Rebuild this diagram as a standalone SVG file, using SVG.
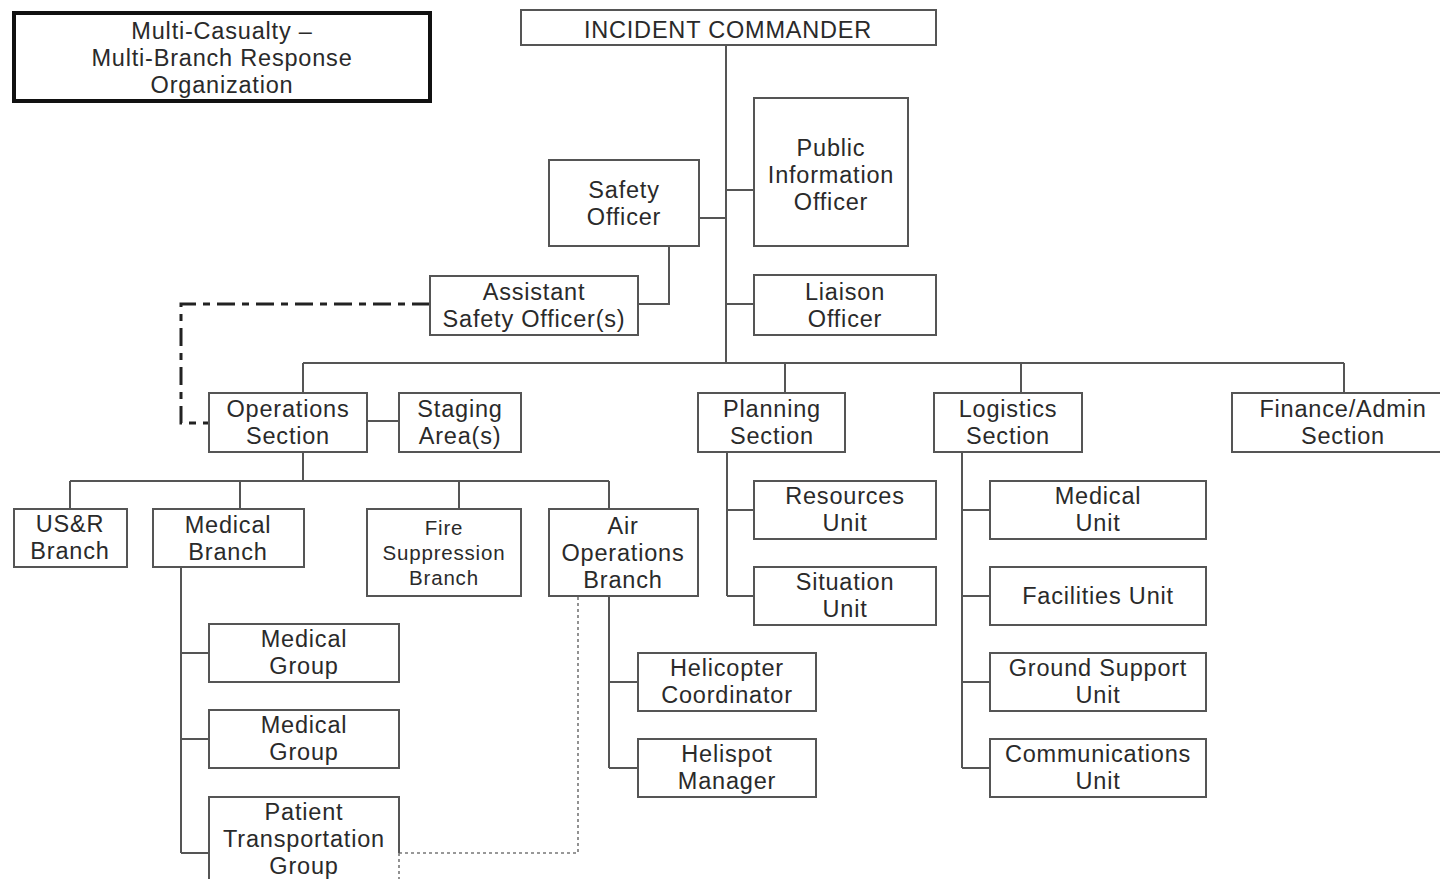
<svg xmlns="http://www.w3.org/2000/svg" width="1440" height="879" viewBox="0 0 1440 879">
<style>
.box{fill:#fff;stroke:#555;stroke-width:2}
.t{font-family:"Liberation Sans",Arial,sans-serif;font-size:23.5px;fill:#2a2a2a;text-anchor:middle;letter-spacing:0.8px}
.s{font-size:20.5px}
.ln{fill:none;stroke:#555;stroke-width:2}
.dash{fill:none;stroke:#222;stroke-width:3;stroke-dasharray:18 7 7 7}
.dot{fill:none;stroke:#777;stroke-width:1.6;stroke-dasharray:3 3}
</style>
<rect width="1440" height="879" fill="#fff"/>
<g id="connectors">
<path class="ln" d="M726 45V363M699 218H726M726 190H754M726 304H754M669 246V304H638"/>
<path class="ln" d="M303 363H1344M303 363V393M785 363V393M1021 363V393M1344 363V393"/>
<path class="ln" d="M367 421H399"/>
<path class="ln" d="M303 452V481M70 481H609M70 481V509M240 481V509M459 481V509M609 481V509"/>
<path class="ln" d="M181 567V853M181 653H209M181 739H209M181 853H209"/>
<path class="ln" d="M609 596V768M609 682H638M609 768H638"/>
<path class="ln" d="M727 452V596M727 510H754M727 596H754"/>
<path class="ln" d="M962 452V768M962 510H990M962 596H990M962 682H990M962 768H990"/>
<path class="dash" d="M430 304H181V423H209"/>
<path class="dot" d="M578 597V853H399M399 853V879"/>
</g>
<g id="title"><rect x="14" y="13" width="416" height="88" fill="#fff" stroke="#111" stroke-width="4"/>
<text class="t" x="222" y="39">Multi-Casualty –</text><text class="t" x="222" y="66">Multi-Branch Response</text><text class="t" x="222" y="93">Organization</text></g>
<g id="ic"><rect class="box" x="521" y="10" width="415" height="35"/><text class="t" x="728" y="38">INCIDENT COMMANDER</text></g>
<g id="pio"><rect class="box" x="754" y="98" width="154" height="148"/><text class="t" x="831" y="156">Public</text><text class="t" x="831" y="183">Information</text><text class="t" x="831" y="210">Officer</text></g>
<g id="safety"><rect class="box" x="549" y="160" width="150" height="86"/><text class="t" x="624" y="198">Safety</text><text class="t" x="624" y="225">Officer</text></g>
<g id="asst"><rect class="box" x="430" y="276" width="208" height="59"/><text class="t" x="534" y="300">Assistant</text><text class="t" x="534" y="327">Safety Officer(s)</text></g>
<g id="liaison"><rect class="box" x="754" y="275" width="182" height="60"/><text class="t" x="845" y="300">Liaison</text><text class="t" x="845" y="327">Officer</text></g>
<g id="ops"><rect class="box" x="209" y="393" width="158" height="59"/><text class="t" x="288" y="417">Operations</text><text class="t" x="288" y="444">Section</text></g>
<g id="staging"><rect class="box" x="399" y="393" width="122" height="59"/><text class="t" x="460" y="417">Staging</text><text class="t" x="460" y="444">Area(s)</text></g>
<g id="planning"><rect class="box" x="698" y="393" width="147" height="59"/><text class="t" x="772" y="417">Planning</text><text class="t" x="772" y="444">Section</text></g>
<g id="logistics"><rect class="box" x="934" y="393" width="148" height="59"/><text class="t" x="1008" y="417">Logistics</text><text class="t" x="1008" y="444">Section</text></g>
<g id="finance"><rect class="box" x="1232" y="393" width="212" height="59"/><text class="t" x="1343" y="417">Finance/Admin</text><text class="t" x="1343" y="444">Section</text></g>
<g id="usr"><rect class="box" x="14" y="509" width="113" height="58"/><text class="t" x="70" y="532">US&amp;R</text><text class="t" x="70" y="559">Branch</text></g>
<g id="medbranch"><rect class="box" x="153" y="509" width="151" height="58"/><text class="t" x="228" y="533">Medical</text><text class="t" x="228" y="560">Branch</text></g>
<g id="fire"><rect class="box" x="367" y="509" width="154" height="87"/><text class="t s" x="444" y="535">Fire</text><text class="t s" x="444" y="560">Suppression</text><text class="t s" x="444" y="585">Branch</text></g>
<g id="air"><rect class="box" x="549" y="509" width="149" height="87"/><text class="t" x="623" y="534">Air</text><text class="t" x="623" y="561">Operations</text><text class="t" x="623" y="588">Branch</text></g>
<g id="resources"><rect class="box" x="754" y="481" width="182" height="58"/><text class="t" x="845" y="504">Resources</text><text class="t" x="845" y="531">Unit</text></g>
<g id="situation"><rect class="box" x="754" y="567" width="182" height="58"/><text class="t" x="845" y="590">Situation</text><text class="t" x="845" y="617">Unit</text></g>
<g id="medunit"><rect class="box" x="990" y="481" width="216" height="58"/><text class="t" x="1098" y="504">Medical</text><text class="t" x="1098" y="531">Unit</text></g>
<g id="facilities"><rect class="box" x="990" y="567" width="216" height="58"/><text class="t" x="1098" y="604">Facilities Unit</text></g>
<g id="ground"><rect class="box" x="990" y="653" width="216" height="58"/><text class="t" x="1098" y="676">Ground Support</text><text class="t" x="1098" y="703">Unit</text></g>
<g id="comms"><rect class="box" x="990" y="739" width="216" height="58"/><text class="t" x="1098" y="762">Communications</text><text class="t" x="1098" y="789">Unit</text></g>
<g id="medgroup1"><rect class="box" x="209" y="624" width="190" height="58"/><text class="t" x="304" y="647">Medical</text><text class="t" x="304" y="674">Group</text></g>
<g id="medgroup2"><rect class="box" x="209" y="710" width="190" height="58"/><text class="t" x="304" y="733">Medical</text><text class="t" x="304" y="760">Group</text></g>
<g id="patient"><path class="box" d="M209 885V797H399V853"/><text class="t" x="304" y="820">Patient</text><text class="t" x="304" y="847">Transportation</text><text class="t" x="304" y="874">Group</text></g>
<g id="heli"><rect class="box" x="638" y="653" width="178" height="58"/><text class="t" x="727" y="676">Helicopter</text><text class="t" x="727" y="703">Coordinator</text></g>
<g id="helispot"><rect class="box" x="638" y="739" width="178" height="58"/><text class="t" x="727" y="762">Helispot</text><text class="t" x="727" y="789">Manager</text></g>
</svg>
